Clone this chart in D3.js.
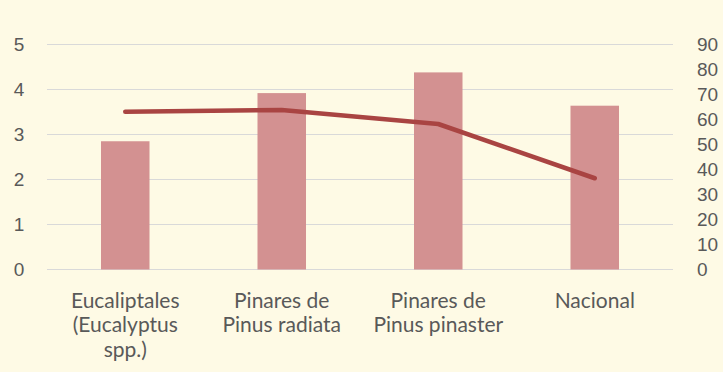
<!DOCTYPE html>
<html>
<head>
<meta charset="utf-8">
<script src="https://cdn.jsdelivr.net/npm/d3@7"></script>
<style>
  html, body { margin: 0; padding: 0; background: #FEFAE5; }
  svg { display: block; font-family: Lato, "Open Sans", sans-serif; }
</style>
</head>
<body>
<svg id="chart" width="723" height="372"></svg>
<script>
// Categories (each label split into its display lines)
const categories = ["Eucaliptales", "Pinares de radiata", "Pinares de pinaster", "Nacional"];
const categoryLines = [
  ["Eucaliptales", "(Eucalyptus", "spp.)"],
  ["Pinares de", "Pinus radiata"],
  ["Pinares de", "Pinus pinaster"],
  ["Nacional"]
];
// Bar series (left axis) and line series (right axis)
const barValues = [2.85, 3.92, 4.38, 3.64];
const lineValues = [63.1, 63.8, 58.2, 36.5];
const leftTicks = [0, 1, 2, 3, 4, 5];
const rightTicks = [0, 10, 20, 30, 40, 50, 60, 70, 80, 90];

const svg = d3.select("#chart");
const margin = { left: 47, right: 50, top: 44.5, bottom: 102.5 };
const W = 723, H = 372;
const x0 = margin.left, x1 = W - margin.right;
const yTop = margin.top, yBot = H - margin.bottom;

const x = d3.scaleBand().domain(categories).range([x0, x1]).paddingInner(0.69).paddingOuter(0.345);
const yL = d3.scaleLinear().domain([0, 5]).range([yBot, yTop]);
const yR = d3.scaleLinear().domain([0, 90]).range([yBot, yTop]);

const textColor = "#595959";

// Gridlines
svg.append("g").selectAll("line").data(leftTicks).join("line")
  .attr("x1", x0).attr("x2", x1)
  .attr("y1", d => yL(d)).attr("y2", d => yL(d))
  .attr("stroke", "#D9D9D9").attr("stroke-width", 1.2);

// Left axis
const leftAxis = d3.axisLeft(yL).tickValues(leftTicks).tickSize(0).tickPadding(0).tickFormat(d3.format("d"));
const gL = svg.append("g").attr("transform", `translate(19,0)`).call(leftAxis);
gL.select(".domain").remove();
gL.selectAll("text").attr("text-anchor", "middle").attr("fill", textColor).style("font-size", "19px").attr("font-family", null);

// Right axis
const rightAxis = d3.axisRight(yR).tickValues(rightTicks).tickSize(0).tickPadding(0).tickFormat(d3.format("d"));
const gR = svg.append("g").attr("transform", `translate(697,0)`).call(rightAxis);
gR.select(".domain").remove();
gR.selectAll("text").attr("fill", textColor).style("font-size", "19px").attr("font-family", null);

// Bars
svg.append("g").selectAll("rect").data(barValues).join("rect")
  .attr("x", (d, i) => x(categories[i]))
  .attr("width", x.bandwidth())
  .attr("y", d => yL(d))
  .attr("height", d => yBot - yL(d))
  .attr("fill", "#D39191");

// Line
const line = d3.line()
  .x((d, i) => x(categories[i]) + x.bandwidth() / 2)
  .y(d => yR(d));
svg.append("path").datum(lineValues)
  .attr("d", line)
  .attr("fill", "none")
  .attr("stroke", "#A94442")
  .attr("stroke-width", 4.5)
  .attr("stroke-linecap", "round")
  .attr("stroke-linejoin", "round");

// Category labels
const labels = svg.append("g").selectAll("text").data(categoryLines).join("text")
  .attr("text-anchor", "middle")
  .attr("fill", textColor)
  .style("font-size", "21px")
  .attr("transform", (d, i) => `translate(${x(categories[i]) + x.bandwidth() / 2},307.5)`);
labels.selectAll("tspan").data(d => d).join("tspan")
  .attr("x", 0)
  .attr("dy", (d, j) => j === 0 ? 0 : 24.8)
  .text(d => d);
</script>
</body>
</html>
